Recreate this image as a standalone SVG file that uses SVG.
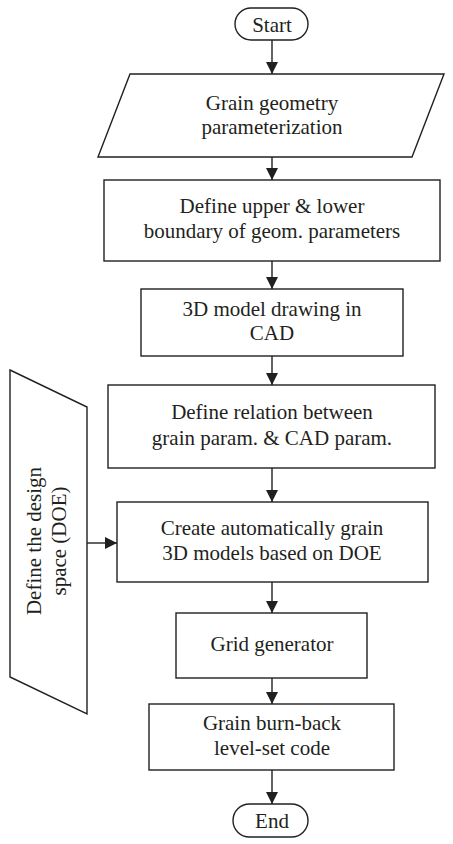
<svg xmlns="http://www.w3.org/2000/svg" width="453" height="844" viewBox="0 0 453 844">
<defs>
<style>
.s{fill:#fff;stroke:#231f20;stroke-width:1.4}
.t{font-family:"Liberation Serif","Times New Roman",serif;font-size:21px;fill:#231f20;text-anchor:middle}
.c{fill:none;stroke:#231f20;stroke-width:1.4}
</style>
<marker id="ah" markerUnits="userSpaceOnUse" markerWidth="12" markerHeight="12" refX="12" refY="6" orient="auto">
<path d="M0,0 L12,6 L0,12 z" fill="#231f20"/>
</marker>
</defs>
<rect width="453" height="844" fill="#fff"/>
<g id="connectors">
<line class="c" x1="272" y1="40" x2="272" y2="74" marker-end="url(#ah)"/>
<line class="c" x1="272" y1="157" x2="272" y2="180" marker-end="url(#ah)"/>
<line class="c" x1="272" y1="261" x2="272" y2="289" marker-end="url(#ah)"/>
<line class="c" x1="272" y1="356" x2="272" y2="385" marker-end="url(#ah)"/>
<line class="c" x1="272" y1="468" x2="272" y2="502" marker-end="url(#ah)"/>
<line class="c" x1="272" y1="582" x2="272" y2="613" marker-end="url(#ah)"/>
<line class="c" x1="272" y1="678" x2="272" y2="704" marker-end="url(#ah)"/>
<line class="c" x1="272" y1="770" x2="272" y2="804" marker-end="url(#ah)"/>
<line class="c" x1="87" y1="543" x2="117" y2="543" marker-end="url(#ah)"/>
</g>
<g id="start">
<rect class="s" x="235" y="8" width="73" height="32" rx="16"/>
<text class="t" x="272" y="32">Start</text>
</g>
<g id="param">
<polygon class="s" points="130,74 444,74 412,157 98,157"/>
<text class="t" x="272" y="110">Grain geometry</text>
<text class="t" x="272" y="134">parameterization</text>
</g>
<g id="bounds">
<rect class="s" x="104" y="180" width="336" height="81"/>
<text class="t" x="272" y="213">Define upper &amp; lower</text>
<text class="t" x="272" y="238">boundary of geom. parameters</text>
</g>
<g id="cad">
<rect class="s" x="141" y="289" width="262" height="67"/>
<text class="t" x="272" y="316">3D model drawing in</text>
<text class="t" x="272" y="340">CAD</text>
</g>
<g id="relation">
<rect class="s" x="108" y="385" width="327" height="83"/>
<text class="t" x="272" y="419">Define relation between</text>
<text class="t" x="272" y="445">grain param. &amp; CAD param.</text>
</g>
<g id="doe">
<polygon class="s" points="10,370 87,407 87,714 10,677"/>
<text class="t" transform="translate(41,541) rotate(-90)">Define the design</text>
<text class="t" transform="translate(66,541) rotate(-90)">space (DOE)</text>
</g>
<g id="create">
<rect class="s" x="117" y="502" width="311" height="80"/>
<text class="t" x="272" y="535">Create automatically grain</text>
<text class="t" x="272" y="560">3D models based on DOE</text>
</g>
<g id="grid">
<rect class="s" x="176" y="613" width="191" height="65"/>
<text class="t" x="272" y="651">Grid generator</text>
</g>
<g id="burn">
<rect class="s" x="149" y="704" width="245" height="66"/>
<text class="t" x="272" y="730">Grain burn-back</text>
<text class="t" x="272" y="755">level-set code</text>
</g>
<g id="end">
<rect class="s" x="233" y="804" width="75" height="33" rx="16.5"/>
<text class="t" x="272" y="828">End</text>
</g>
</svg>
